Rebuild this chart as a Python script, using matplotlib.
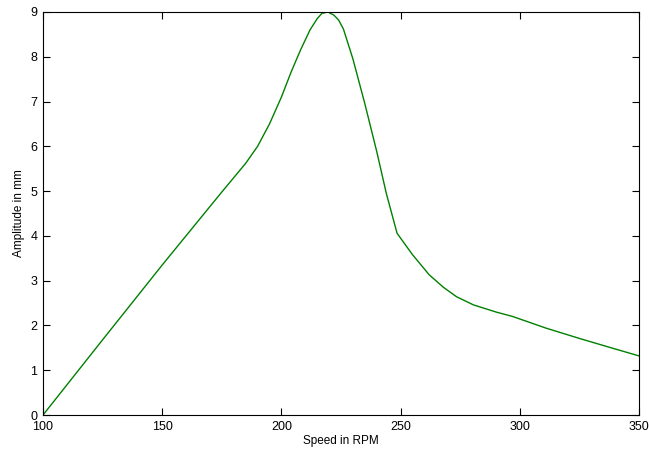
import matplotlib
matplotlib.use('Agg')
import matplotlib.pyplot as plt

# values
speed = [100, 125, 150, 175, 180, 185, 190, 195, 200, 204, 208, 212, 215, 217, 219.5,
         222, 224, 226, 230, 235, 240, 244, 248.5, 252, 255, 262, 268, 273.5, 280.5,
         290, 297, 311, 325, 339, 350]
amplitude = [0.0, 1.68, 3.35, 4.98, 5.3, 5.62, 6.0, 6.5, 7.1, 7.65, 8.15, 8.6, 8.85, 8.97, 9.0,
             8.93, 8.82, 8.62, 7.95, 6.95, 5.88, 4.95, 4.06, 3.8, 3.58, 3.13, 2.85, 2.64, 2.46,
             2.3, 2.2, 1.94, 1.71, 1.49, 1.32]

plt.rcParams['font.family'] = ['Liberation Sans', 'DejaVu Sans']

fig = plt.figure(figsize=(6.49, 4.54), dpi=100)
ax = fig.add_axes([0.0663, 0.0859, 0.9183, 0.8877])

ax.plot(speed, amplitude, color=(0.0, 0.5, 0.0), linewidth=1.0)

ax.set_xlim(100, 350)
ax.set_ylim(0, 9)
ax.set_xticks([100, 150, 200, 250, 300, 350])
ax.set_yticks(range(0, 10))
ax.tick_params(direction='in', top=True, right=True, length=5, labelsize=9, pad=4)
for s in ax.spines.values():
    s.set_linewidth(0.8)

ax.set_xlabel('Speed in RPM', fontsize=8.5, labelpad=2)
ax.set_ylabel('Amplitude in mm', fontsize=8.5, labelpad=4)

fig.savefig('out.png', dpi=100)
